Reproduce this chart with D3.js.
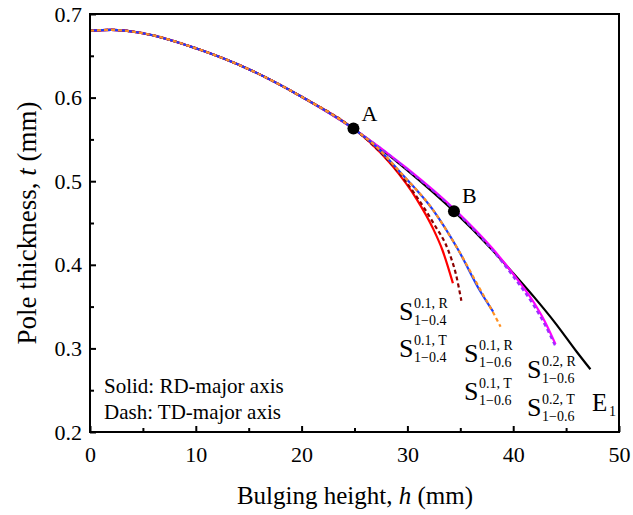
<!DOCTYPE html>
<html>
<head>
<meta charset="utf-8">
<script src="https://cdn.jsdelivr.net/npm/d3@7"></script>
<style>
  body { margin: 0; background: #fff; }
  svg { font-family: "Liberation Serif", "Times New Roman", serif; }
</style>
</head>
<body>
<div id="chart"></div>
<script>
/* Shared initial part of every curve, [h (mm), t (mm)]. */
const basePts = [[0, 0.680], [2, 0.681], [5, 0.677], [10, 0.659], [15, 0.634], [20, 0.601], [25, 0.562]];

/* Tails of each curve after the common part. */
const e1Tail = [[30, 0.513], [34.4, 0.464], [38, 0.418], [40, 0.390], [42, 0.361], [44, 0.330], [46, 0.296], [47.3, 0.275]];
const s02RTail = [[30, 0.515], [34.4, 0.467], [38, 0.420], [40, 0.389], [42, 0.354], [43, 0.332], [44, 0.305]];
const s02TTail = [[30, 0.514], [34.4, 0.466], [38, 0.418], [40, 0.386], [42, 0.350], [43, 0.328], [44, 0.302]];
const s04RTail = [[26.5, 0.546], [28.6, 0.518], [30.9, 0.478], [32.4, 0.444], [33.3, 0.418], [34.3, 0.378]];
const s04TTail = [[26.5, 0.546], [28.6, 0.519], [30.9, 0.481], [32.5, 0.449], [33.9, 0.416], [34.6, 0.388], [35.1, 0.357]];
const s06RTail = [[27, 0.542], [29.3, 0.511], [32.4, 0.466], [34.8, 0.418], [36.9, 0.368], [38.1, 0.344]];
const s06TTail = [[27, 0.542], [29.3, 0.511], [32.4, 0.466], [34.8, 0.418], [36.9, 0.370], [38.1, 0.343], [38.8, 0.326]];

/* Marked points A and B. */
const markers = [{ name: "A", h: 24.9, t: 0.563 }, { name: "B", h: 34.4, t: 0.464 }];

/* Tick values. */
const xTicks = [0, 10, 20, 30, 40, 50];
const yTicks = [0.2, 0.3, 0.4, 0.5, 0.6, 0.7];
const xMinor = [5, 15, 25, 35, 45];
const yMinor = [0.25, 0.35, 0.45, 0.55, 0.65];

/* Series in drawing order. */
const series = [
  { id: "E1", tail: e1Tail, color: "#000000", dash: null },
  { id: "S02R", tail: s02RTail, color: "#ff00ff", dash: null },
  { id: "S02T", tail: s02TTail, color: "#9a30ff", dash: "4,3" },
  { id: "S04R", tail: s04RTail, color: "#ff0000", dash: null },
  { id: "S04T", tail: s04TTail, color: "#8b0000", dash: "4,3" },
  { id: "S06R", tail: s06RTail, color: "#1a3cff", dash: null },
  { id: "S06T", tail: s06TTail, color: "#ff9020", dash: "4,3" }
];

const width = 633, height = 515;
const plot = { left: 90, right: 619, top: 14, bottom: 432 };

const x = d3.scaleLinear().domain([0, 50]).range([plot.left, plot.right]);
const y = d3.scaleLinear().domain([0.2, 0.7]).range([plot.bottom, plot.top]);

const svg = d3.select("#chart").append("svg")
  .attr("width", width)
  .attr("height", height);

/* Curves. */
const line = d3.line()
  .x(d => x(d[0]))
  .y(d => y(d[1]))
  .curve(d3.curveMonotoneX);

series.forEach(s => {
  svg.append("path")
    .datum(basePts.concat(s.tail))
    .attr("d", line)
    .attr("fill", "none")
    .attr("stroke", s.color)
    .attr("stroke-width", 2.2)
    .attr("stroke-dasharray", s.dash);
});

/* Markers. */
svg.selectAll("circle.mark")
  .data(markers)
  .enter()
  .append("circle")
  .attr("class", "mark")
  .attr("cx", d => x(d.h))
  .attr("cy", d => y(d.t))
  .attr("r", 6)
  .attr("fill", "#000");

svg.selectAll("text.mark")
  .data(markers)
  .enter()
  .append("text")
  .attr("class", "mark")
  .attr("x", d => x(d.h) + 8)
  .attr("y", d => y(d.t) - 8)
  .attr("font-size", 22)
  .text(d => d.name);

/* Axes with inward ticks. */
const xAxis = d3.axisBottom(x).tickValues(xTicks).tickSize(-6).tickPadding(14).tickFormat(d3.format("d"));
const yAxis = d3.axisLeft(y).tickValues(yTicks).tickSize(-6).tickPadding(8).tickFormat(d3.format(".1f"));

svg.append("g")
  .attr("transform", "translate(0," + plot.bottom + ")")
  .call(xAxis);
svg.append("g")
  .attr("transform", "translate(" + plot.left + ",0)")
  .call(yAxis);

/* Minor ticks. */
svg.append("g")
  .attr("transform", "translate(0," + plot.bottom + ")")
  .call(d3.axisBottom(x).tickValues(xMinor).tickSize(-4).tickFormat(""));
svg.append("g")
  .attr("transform", "translate(" + plot.left + ",0)")
  .call(d3.axisLeft(y).tickValues(yMinor).tickSize(-4).tickFormat(""));

svg.selectAll(".domain").remove();
svg.selectAll(".tick line").attr("stroke", "#000").attr("stroke-width", 2);
svg.selectAll(".tick text")
  .attr("font-family", "Liberation Serif, serif")
  .attr("font-size", 22)
  .attr("fill", "#000");

/* Frame. */
svg.append("rect")
  .attr("x", plot.left)
  .attr("y", plot.top)
  .attr("width", plot.right - plot.left)
  .attr("height", plot.bottom - plot.top)
  .attr("fill", "none")
  .attr("stroke", "#000")
  .attr("stroke-width", 2);

/* Axis titles. */
const xt = svg.append("text")
  .attr("x", 355)
  .attr("y", 504)
  .attr("text-anchor", "middle")
  .attr("font-size", 25);
xt.append("tspan").text("Bulging height, ");
xt.append("tspan").attr("font-style", "italic").text("h");
xt.append("tspan").text(" (mm)");

const yt = svg.append("text")
  .attr("transform", "translate(36," + (plot.top + plot.bottom) / 2 + ") rotate(-90)")
  .attr("text-anchor", "middle")
  .attr("font-size", 27);
yt.append("tspan").text("Pole thickness, ");
yt.append("tspan").attr("font-style", "italic").text("t");
yt.append("tspan").text(" (mm)");

/* Legend notes. */
svg.append("text").attr("x", 104).attr("y", 393).attr("font-size", 21).text("Solid: RD-major axis");
svg.append("text").attr("x", 104).attr("y", 419).attr("font-size", 21).text("Dash: TD-major axis");

/* Curve labels S with super/subscripts. */
const curveLabels = [
  { sup: "0.1, R", sub: "1\u22120.4", px: 399, py: 320 },
  { sup: "0.1, T", sub: "1\u22120.4", px: 399, py: 357 },
  { sup: "0.1, R", sub: "1\u22120.6", px: 464, py: 362 },
  { sup: "0.1, T", sub: "1\u22120.6", px: 464, py: 400 },
  { sup: "0.2, R", sub: "1\u22120.6", px: 527, py: 378 },
  { sup: "0.2, T", sub: "1\u22120.6", px: 527, py: 416 }
];

curveLabels.forEach(l => {
  svg.append("text").attr("x", l.px).attr("y", l.py).attr("font-size", 26).text("S");
  svg.append("text").attr("x", l.px + 15).attr("y", l.py - 12).attr("font-size", 14).text(l.sup);
  svg.append("text").attr("x", l.px + 15).attr("y", l.py + 5).attr("font-size", 14).text(l.sub);
});

svg.append("text").attr("x", 592).attr("y", 411).attr("font-size", 25).text("E");
svg.append("text").attr("x", 609).attr("y", 416).attr("font-size", 14).text("1");
</script>
</body>
</html>
